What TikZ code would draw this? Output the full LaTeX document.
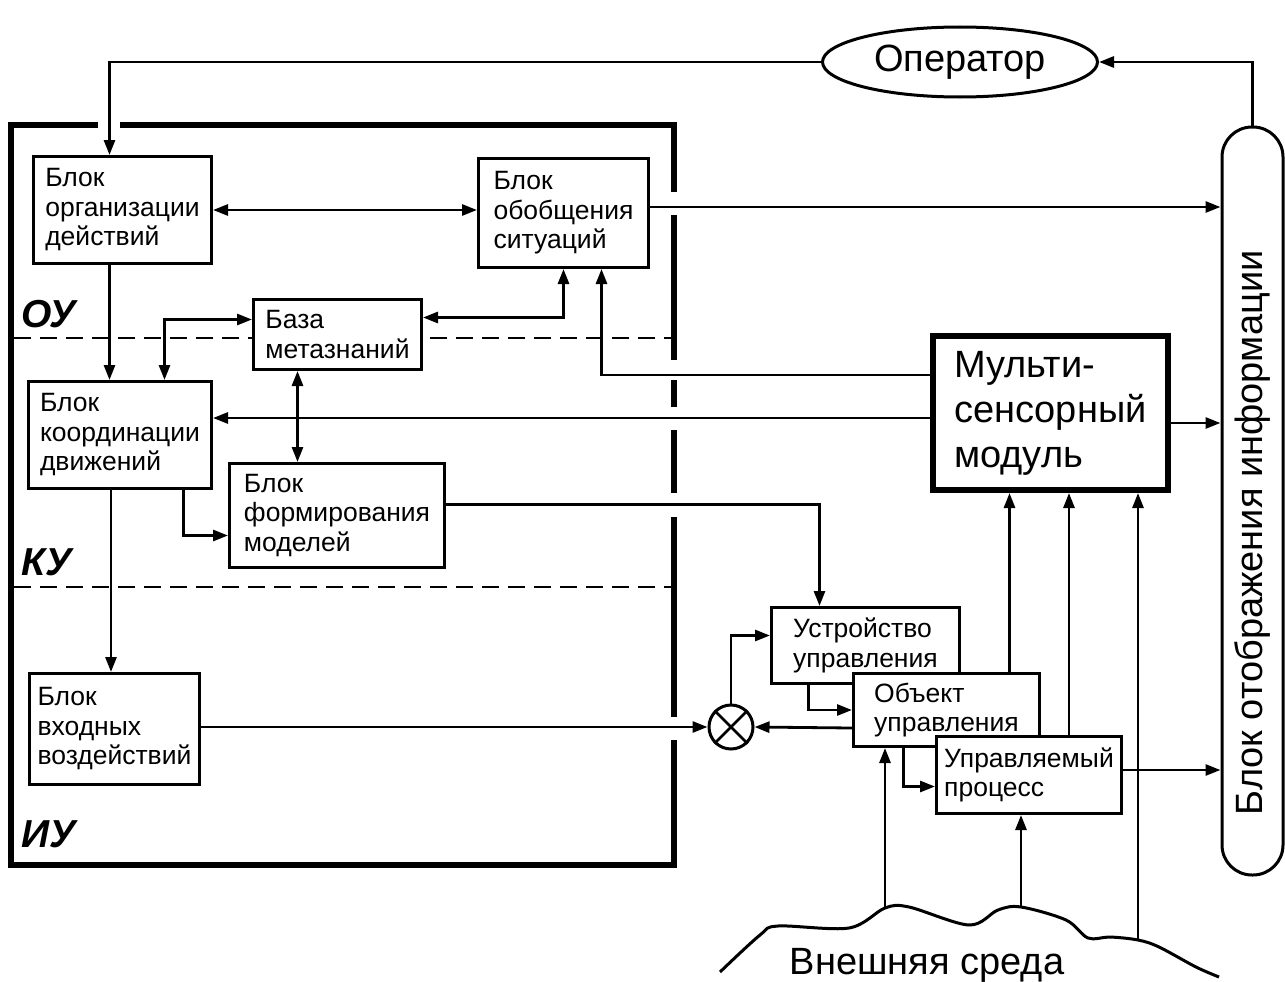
\documentclass[tikz,border=0pt]{standalone}
\usepackage{fontspec}
\setmainfont{Liberation Sans}
\usepackage{graphicx}
\usepackage{tikz}
\usetikzlibrary{arrows.meta, positioning, shapes.geometric, calc}

\newcommand{\boxfont}{\fontsize{26.5}{29.5}\selectfont}
\newcommand{\bigfont}{\fontsize{38}{45}\selectfont}
\newcommand{\lvlfont}{\fontsize{39}{44}\selectfont\bfseries\itshape}

\begin{document}
\begin{tikzpicture}[
  x=1pt, y=-1pt,
  box/.style={draw, line width=3pt, fill=white, anchor=north west, align=left, inner sep=0pt, font=\boxfont},
  arr/.style={-{Triangle[length=15pt, width=11pt]}, line width=2.8pt},
  darr/.style={{Triangle[length=15pt, width=11pt]}-{Triangle[length=15pt, width=11pt]}, line width=2.8pt},
  frame/.style={line width=6pt},
  sep/.style={line width=2.8pt, dash pattern=on 17pt off 9pt},
  lvl/.style={font=\lvlfont, anchor=base west, inner sep=0pt},
]
  \useasboundingbox (0,0) rectangle (1285,982);

  % Frame of the control system
  \draw[frame] (98,125) -- (11,125) -- (11,865) -- (674,865) -- (674,740);
  \foreach \ya/\yb in {717/517, 493/430, 407/380, 360/215}
    \draw[frame] (674,\ya) -- (674,\yb);
  \draw[frame] (674,192) -- (674,125) -- (120,125);
  \draw[sep] (14,338) -- (671,338);
  \draw[sep] (14,587) -- (671,587);
  \node[lvl] (OU) at (21,327) {ОУ};
  \node[lvl] (KU) at (21,575) {КУ};
  \node[lvl] (IU) at (21,847) {ИУ};

  % Nodes
  \node[box, minimum width=178pt, minimum height=107pt] (ORG) at (32,155) {Блок\\организации\\действий};
  \node[box, minimum width=170pt, minimum height=109pt] (GEN) at (477,157) {Блок\\обобщения\\ситуаций};
  \node[box, minimum width=168pt, minimum height=70pt] (META) at (252,298) {База\\метазнаний};
  \node[box, minimum width=183pt, minimum height=107pt] (COORD) at (27,380) {Блок\\координации\\движений};
  \node[box, minimum width=215pt, minimum height=104pt] (MOD) at (228,462) {Блок\\формирования\\моделей};
  \node[box, minimum width=170pt, minimum height=111pt] (INP) at (28,672) {Блок\\входных\\воздействий};
  \node[box, minimum width=188pt, minimum height=76pt] (CTRL) at (770,606) {Устройство\\управления};
  \node[box, minimum width=186pt, minimum height=73pt] (OBJ) at (852,672) {Объект\\управления};
  \node[box, minimum width=185pt, minimum height=77pt] (PROC) at (935,735) {Управляемый\\процесс};
  \node[box, line width=6pt, font=\bigfont, minimum width=235pt, minimum height=154pt] (SENS) at (930,333) {Мульти-\\сенсорный\\модуль};
  \node[draw, ellipse, line width=3pt, minimum width=275pt, minimum height=70pt, font=\bigfont] (OP) at (960,62) {Оператор};
  \node[draw, rounded corners=30pt, line width=3pt, minimum width=61pt, minimum height=748pt, inner sep=0pt, font=\bigfont] (DISP) at (1252.5,501) {\rotatebox{90}{Блок отображения информации\hspace*{64pt}}};
  \node[draw, circle, line width=3pt, minimum size=44pt, inner sep=0pt] (SUM) at (731,727) {};
  \draw[line width=2.8pt] (SUM.north west) -- (SUM.south east) (SUM.north east) -- (SUM.south west);

  % Environment
  \draw[line width=3pt] plot[smooth, tension=0.55] coordinates {(720,972) (760,935) (778,926) (849,928) (885,908) (909,907) (969,925) (998,910) (1021,907) (1066,920) (1088,938) (1110,937) (1138,940) (1159,947) (1196,967) (1219,977)};
  \coordinate (e1) at (885,908);
  \coordinate (e2) at (1021,907);
  \coordinate (e3) at (1138,940);
  \node[font=\bigfont, anchor=base] (ENV) at (927,974) {Внешняя среда};

  % Edges
  \coordinate (o1) at ([xshift=-13pt]ORG.north);
  \draw[arr] (OP.west) -| (o1);
  \draw[arr] (DISP.north) |- (OP.east);
  \draw[darr] (ORG.east) -- (ORG.east -| GEN.west);
  \coordinate (g1) at ([yshift=6pt]GEN.east);
  \draw[arr] (g1) -- (g1 -| DISP.west);
  \coordinate (o2) at ([xshift=-13pt]ORG.south);
  \draw[arr] (o2) -- (o2 |- COORD.north);
  \coordinate (c1) at ([xshift=44.5pt]COORD.north);
  \draw[darr] (c1) |- ([yshift=15pt]META.west);
  \draw[darr] (GEN.south) |- ([yshift=17pt]META.east);
  \coordinate (m1) at ([xshift=-40pt]META.south);
  \draw[darr] (m1) -- (m1 |- MOD.north);
  \coordinate (s1) at ([yshift=-5pt]SENS.west);
  \draw[arr] (s1) -- (s1 -| COORD.east);
  \draw[arr] ([yshift=38pt]SENS.west) -| ([xshift=38pt]GEN.south);
  \coordinate (s2) at ([yshift=-10pt]SENS.east);
  \draw[arr] (s2) -- (s2 -| DISP.west);
  \draw[arr] ([xshift=63.5pt]COORD.south) |- ([yshift=-20pt]MOD.west);
  \coordinate (c2) at ([xshift=-9pt]COORD.south);
  \draw[arr] (c2) -- (c2 |- INP.north);
  \draw[arr] ([yshift=11pt]MOD.east) -| ([xshift=-46pt]CTRL.north);
  \draw[arr] (SUM.west -| INP.east) -- (SUM.west);
  \draw[arr] (SUM.north) |- ([yshift=10pt]CTRL.west);
  \draw[arr] ([xshift=-57pt]CTRL.south) |- (OBJ.west);
  \draw[arr] ([yshift=-18pt]OBJ.west) -- (SUM.east);
  \draw[arr] ([xshift=-43pt]OBJ.south) |- ([yshift=-11.5pt]PROC.west);
  \coordinate (b1) at ([xshift=63pt]OBJ.north);
  \draw[arr] (b1) -- (b1 |- SENS.south);
  \coordinate (b2) at ([xshift=40pt]PROC.north);
  \draw[arr] (b2) -- (b2 |- SENS.south);
  \coordinate (p1) at ([yshift=5pt]PROC.east);
  \draw[arr] (p1) -- (p1 -| DISP.west);
  \draw[arr] (e1) -- (e1 |- OBJ.south);
  \draw[arr] (e2) -- (e2 |- PROC.south);
  \draw[arr] (e3) -- (e3 |- SENS.south);
\end{tikzpicture}
\end{document}
